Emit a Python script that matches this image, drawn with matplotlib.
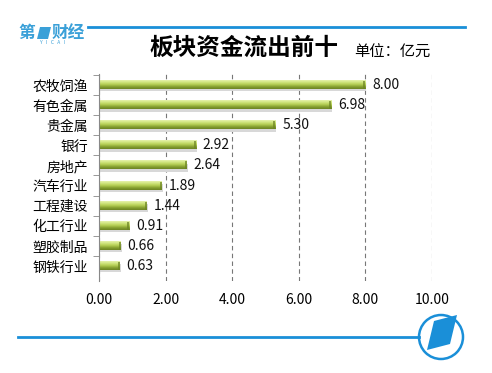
import numpy as np
import matplotlib
matplotlib.use('Agg')
import matplotlib.pyplot as plt
from matplotlib.colors import LinearSegmentedColormap
from matplotlib.lines import Line2D
from matplotlib.patches import Ellipse, Polygon

plt.rcParams['font.family'] = ['Noto Sans CJK SC', 'DejaVu Sans']

categories = ['农牧饲渔', '有色金属', '贵金属', '银行', '房地产',
              '汽车行业', '工程建设', '化工行业', '塑胶制品', '钢铁行业']
values = [8.00, 6.98, 5.30, 2.92, 2.64, 1.89, 1.44, 0.91, 0.66, 0.63]
xticks = [0, 2, 4, 6, 8, 10]

W, H = 492, 373
fig = plt.figure(figsize=(W / 100, H / 100), dpi=100)
ax = fig.add_axes([99 / W, 1 - 281 / H, 333 / W, 207 / H])

# bar shading, light on top, dark olive at the bottom
bar_cmap = LinearSegmentedColormap.from_list(
    'bar', ['#e6f2ae', '#cfe47c', '#b2cc52', '#86a030', '#6c8424'])
grad = np.linspace(0, 1, 64).reshape(-1, 1)
bh = 0.4

y = np.arange(len(categories))
for i, v in enumerate(values):
    # soft shadow
    ax.barh(i + 0.12, v + 0.03, height=bh, color='#d8d8d8', zorder=1)
    ax.imshow(grad, cmap=bar_cmap, aspect='auto', zorder=2,
              extent=(0, v, i + bh / 2, i - bh / 2), interpolation='bilinear')
    ax.barh(i, 0.07, left=v - 0.07, height=bh, color='#6c8424', alpha=0.7, zorder=3)
    ax.text(v + 0.2, i, f'{v:.2f}', va='center', ha='left', fontsize=10, color='#111111')

ax.set_xlim(0, 10)
ax.set_ylim(9.75, -0.55)
ax.set_xticks(xticks)
ax.set_xticklabels([f'{t:.2f}' for t in xticks], fontsize=10)
ax.set_yticks(y)
ax.set_yticklabels(categories, fontsize=10)
ax.set_yticks(np.arange(-0.5, len(categories) - 0.5, 1.0), minor=True)
ax.tick_params(axis='y', which='major', length=0, pad=8)
ax.tick_params(axis='y', which='minor', length=4, color='#888888')
ax.tick_params(axis='x', length=0, pad=9)

ax.grid(axis='x', linestyle=(0, (4, 3)), color='#777777', linewidth=0.8)
ax.set_axisbelow(True)
for s in ['top', 'right', 'bottom']:
    ax.spines[s].set_visible(False)
ax.spines['left'].set_color('#888888')

# title and unit
fig.text(244 / W, 1 - 48 / H, '板块资金流出前十', fontsize=17, fontweight='bold',
         ha='center', va='center')
fig.text(392 / W, 1 - 52 / H, '单位：亿元', fontsize=11, ha='center', va='center')

# header line and logo
blue = '#1a8fd8'
fig.add_artist(Line2D([88 / W, 465 / W], [1 - 27 / H, 1 - 27 / H], color=blue, lw=2))
fig.text(18 / W, 1 - 33 / H, '第', fontsize=12, fontweight='bold', color='#3aa0d8',
         ha='left', va='center')
fig.add_artist(Polygon([(37 / W, 1 - 39 / H), (40 / W, 1 - 27 / H), (51 / W, 1 - 27 / H),
                        (48 / W, 1 - 39 / H)], closed=True, facecolor='#3aa0d8',
                       transform=fig.transFigure))
fig.text(52 / W, 1 - 33 / H, '财经', fontsize=12, fontweight='bold', color='#3aa0d8',
         ha='left', va='center')
fig.text(53 / W, 1 - 43 / H, 'Y   I   C   A   I', fontsize=3.5, color='#3aa0d8',
         ha='center', va='center')

# footer line and round badge
fig.add_artist(Line2D([18 / W, 419 / W], [1 - 337 / H, 1 - 337 / H], color=blue, lw=2))
fig.add_artist(Ellipse((441 / W, 1 - 337 / H), 44 / W, 44 / H, fill=False,
                       edgecolor=blue, lw=1.8, transform=fig.transFigure))
fig.add_artist(Polygon([(434 / W, 1 - 321 / H), (457 / W, 1 - 315 / H),
                        (450 / W, 1 - 344 / H), (427 / W, 1 - 350 / H)], closed=True,
                       facecolor=blue, transform=fig.transFigure))

fig.savefig('out.png', dpi=100)
